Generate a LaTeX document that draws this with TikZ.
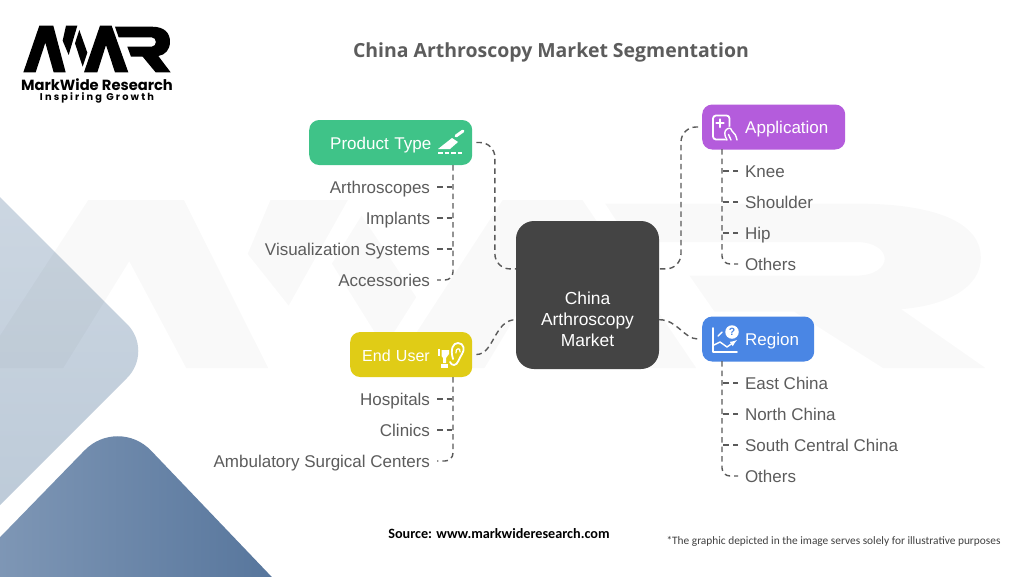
\documentclass[tikz,border=0pt]{standalone}
\usepackage{fontspec}
\setmainfont{Liberation Sans}
\newfontfamily\logofont{Poppins}
\newfontfamily\logospaced[LetterSpace=22]{Poppins}
\newfontfamily\titlefont{Open Sans}
\newfontfamily\notefont{Carlito}
\usetikzlibrary{shadings}

\definecolor{rootgray}{HTML}{444444}
\definecolor{linkgray}{HTML}{5A5A5A}
\definecolor{leafgray}{HTML}{5C5C5C}
\definecolor{prodgreen}{HTML}{3FC388}
\definecolor{apppurple}{HTML}{B45CDC}
\definecolor{useryellow}{HTML}{E0CC16}
\definecolor{regionblue}{HTML}{4A86E4}
\definecolor{slatetop}{HTML}{D3DCE6}
\definecolor{slatelow}{HTML}{B6C5D4}
\definecolor{steelleft}{HTML}{8CA2BE}
\definecolor{steelright}{HTML}{4F6F97}

\newcommand{\mwrshape}{
  (70,217) -- (118,77) -- (160,77) -- (197,217) -- (161,217) -- (136,128) -- (107,217) -- cycle
  (198,77) -- (232,77) -- (206,165) -- (188,122) -- cycle
  (238,90) -- (262,158) -- (248,200) -- (225,130) -- cycle
  (252,217) -- (300,77) -- (335,77) -- (385,217) -- (345,217) -- (318,135) -- (292,217) -- cycle
  (345,80) -- (455,80) .. controls (495,80) and (510,100) .. (510,125)
  .. controls (510,150) and (495,165) .. (475,168) -- (512,217) -- (467,217) -- (428,170)
  -- (393,170) -- (382,140) -- (455,140) .. controls (472,140) and (472,112) .. (455,112) -- (356,112) -- cycle
}

\tikzset{
  rootbox/.style = {rectangle, fill=rootgray, rounded corners=18, minimum width=143, minimum height=148,
    inner sep=0, text=white, align=center, font=\fontsize{17.4}{21}\selectfont},
  catbox/.style = {rectangle, fill=#1, rounded corners=10, minimum height=45, inner sep=0, anchor=west,
    text=white, align=left, text height=15, text depth=2, font=\fontsize{17}{20}\selectfont},
  leafleft/.style = {anchor=east, inner sep=0, outer sep=7, text=leafgray, text height=15, text depth=2,
    font=\fontsize{17}{20}\selectfont},
  leafright/.style = {leafleft, anchor=west},
  link/.style = {draw=linkgray, line width=1.4, dash pattern=on 5.5 off 4},
  icon/.style = {draw=white, line width=1.8, line cap=round, line join=round},
  iconfill/.style = {fill=white}
}

\begin{document}
\begin{tikzpicture}[x=1pt,y=-1pt]
  \useasboundingbox (0,0) rectangle (1024,576);

  \begin{scope}
    \clip (0,0) rectangle (1024,576);
    \fill[white] (0,0) rectangle (1024,576);
    \path[rounded corners=38, top color=slatetop, bottom color=slatelow]
      (-150,47) -- (154,351) -- (-150,655) -- cycle;
    \path[rounded corners=48, left color=steelleft, right color=steelright]
      (-100,640) -- (118,416) -- (332,640) -- cycle;
    \begin{scope}[shift={(-180.4,107.6)},xscale=2.277,yscale=1.2]
      \fill[black,opacity=.022] \mwrshape;
    \end{scope}
  \end{scope}

  \begin{scope}[scale=.3333]
    \fill[black] \mwrshape;
  \end{scope}
  \node[inner sep=0] (logoname) at (97,84.5) {\logofont\bfseries\fontsize{14.7}{16}\selectfont MarkWide Research};
  \node[inner sep=0] (logotag) at (97,97.5) {\logospaced\bfseries\fontsize{9.8}{10}\selectfont Inspiring Growth};

  \node[text=leafgray] (title) at (551,52) {\titlefont\bfseries\fontsize{19.45}{22}\selectfont China Arthroscopy Market Segmentation};

  \node[rootbox] (market) at (587.5,295) {\rule{0pt}{62pt}China\\Arthroscopy\\Market};

  \node[catbox=prodgreen, text width=163] (prodtype) at (309,142.5) {\hspace*{21pt}Product Type};
  \node[catbox=useryellow, text width=122, font=\fontsize{16}{20}\selectfont] (enduser) at (350,354.5) {\hspace*{12pt}End User};
  \node[catbox=apppurple, text width=143] (application) at (702,127) {\hspace*{43pt}Application};
  \node[catbox=regionblue, text width=112] (region) at (702,339) {\hspace*{43pt}Region};

  \node[leafleft] (arthroscopes) at (437,187) {Arthroscopes};
  \node[leafleft] (implants) at (437,218) {Implants};
  \node[leafleft] (visual) at (437,249) {Visualization Systems};
  \node[leafleft] (accessories) at (437,280) {Accessories};

  \node[leafleft] (hospitals) at (437,399) {Hospitals};
  \node[leafleft] (clinics) at (437,430) {Clinics};
  \node[leafleft] (ambulatory) at (437,461) {Ambulatory Surgical Centers};

  \node[leafright] (knee) at (738,171) {Knee};
  \node[leafright] (shoulder) at (738,202) {Shoulder};
  \node[leafright] (hip) at (738,233) {Hip};
  \node[leafright] (appothers) at (738,264) {Others};

  \node[leafright] (east) at (738,383) {East China};
  \node[leafright] (north) at (738,414) {North China};
  \node[leafright] (south) at (738,445) {South Central China};
  \node[leafright] (regothers) at (738,476) {Others};

  \node (source) at (499,534) {\notefont\bfseries\fontsize{14.2}{16}\selectfont Source: www.markwideresearch.com};
  \node[text=black!75] (note) at (833.5,541) {\notefont\fontsize{11.36}{14}\selectfont *The graphic depicted in the image serves solely for illustrative purposes};

  \coordinate (prodtrunk) at (453,165);
  \coordinate (usertrunk) at (453,377);
  \coordinate (apptrunk) at (722,149);
  \coordinate (regtrunk) at (722,361);

  \draw[link, rounded corners=15, shorten <=4] (prodtype.east) -- ++(22.5,0) |- (market.160);
  \draw[link, rounded corners=15, shorten <=4] (application.west) -- ++(-21,0) |- (market.20);
  \draw[link, shorten <=4] (enduser.east) to[out=0,in=180] (market.199);
  \draw[link, shorten >=4] (market.341) to[out=0,in=180] (region.west);

  \draw[link, rounded corners=8] (prodtrunk) |- (accessories.east);
  \draw[link] (arthroscopes.east) -- (arthroscopes.east -| prodtrunk);
  \draw[link] (implants.east) -- (implants.east -| prodtrunk);
  \draw[link] (visual.east) -- (visual.east -| prodtrunk);

  \draw[link, rounded corners=8] (usertrunk) |- (ambulatory.east);
  \draw[link] (hospitals.east) -- (hospitals.east -| usertrunk);
  \draw[link] (clinics.east) -- (clinics.east -| usertrunk);

  \draw[link, rounded corners=8] (apptrunk) |- (appothers.west);
  \draw[link] (knee.west) -- (knee.west -| apptrunk);
  \draw[link] (shoulder.west) -- (shoulder.west -| apptrunk);
  \draw[link] (hip.west) -- (hip.west -| apptrunk);

  \draw[link, rounded corners=8] (regtrunk) |- (regothers.west);
  \draw[link] (east.west) -- (east.west -| regtrunk);
  \draw[link] (north.west) -- (north.west -| regtrunk);
  \draw[link] (south.west) -- (south.west -| regtrunk);

  % scalpel
  \fill[iconfill] (452,138) -- (438,149) -- (450,149) -- (458,142) -- cycle;
  \draw[icon, line width=3] (456,136) -- (463,131);
  \draw[icon, line cap=butt, dash pattern=on 4.5 off 2] (438,153) -- (464,153);

  % otoscope and ear
  \draw[icon] (453,359) .. controls (450,349) and (453,343) .. (458,343) .. controls (464,343) and (465,350) .. (462,354)
    .. controls (459,358) and (458,365) .. (454,365) .. controls (452,365) and (451,364) .. (450,362);
  \draw[icon, line width=1.2] (456,353) .. controls (455,348) and (461,347) .. (460,352);
  \fill[iconfill] (437.5,349) rectangle (439.5,356);
  \fill[iconfill] (441.5,350) -- (449,350) -- (449,354) -- (446,358) -- (446,363) -- (443,363) -- (443,358) -- (441.5,356) -- cycle;
  \fill[iconfill] (441,364) rectangle (447.5,368);

  % tablet and hand
  \draw[icon, rounded corners=3] (713,115.5) rectangle (729.5,139.5);
  \fill[apppurple] (731,134) circle (7.5);
  \draw[icon, line width=2.6] (720,119.5) -- (720,127);
  \draw[icon, line width=2.6] (716.5,123) -- (723.5,123);
  \draw[icon, line width=1.4] (727,140) .. controls (724,135) and (724,131) .. (727,129) .. controls (730,127) and (732,129) .. (732,131)
    .. controls (735,133) and (736,136) .. (737,140);
  \draw[icon, line width=1.4] (731,140) -- (728.5,134.5);

  % chart and question mark
  \draw[icon] (713,328) -- (713,352) -- (737,352);
  \draw[icon, line width=1.4] (718,336) -- (722,332);
  \draw[icon, line width=1.4, -latex] (714,345) -- (720,342) -- (727,347) -- (737,340);
  \node[circle, fill=white, minimum size=13.5, inner sep=0, text=regionblue, font=\bfseries\fontsize{10.5}{11}\selectfont] (regionhelp) at (732,332) {?};
\end{tikzpicture}
\end{document}
